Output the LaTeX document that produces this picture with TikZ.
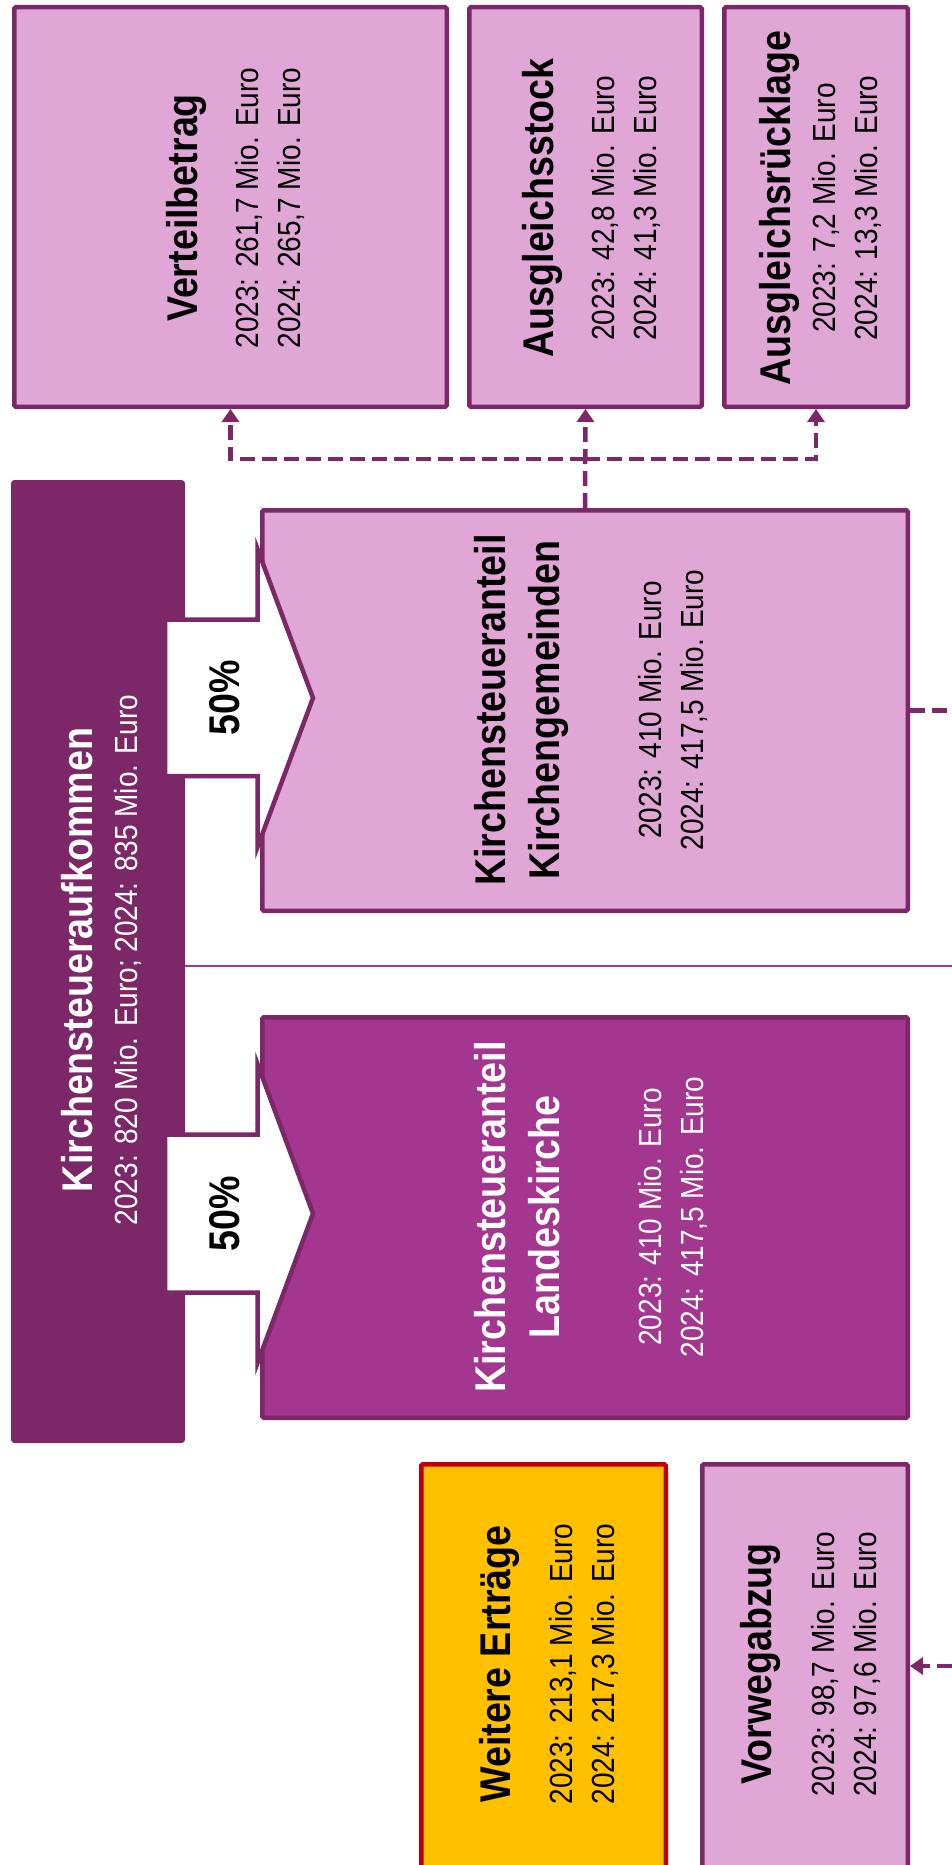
\documentclass[tikz,border=0pt]{standalone}
\usepackage{fontspec}
\setmainfont{Liberation Sans}[FakeStretch=0.875]
\usetikzlibrary{arrows.meta}
\definecolor{kdark}{RGB}{123,39,104}
\definecolor{lpink}{RGB}{224,166,214}
\definecolor{lkmid}{RGB}{163,54,143}
\definecolor{kgold}{RGB}{255,192,0}
\definecolor{kred}{RGB}{192,0,0}
\newcommand\boxtitle[1]{{\fontsize{43}{50}\selectfont\bfseries #1}}
\begin{document}
\begin{tikzpicture}[x=1pt,y=-1pt,
  kbox/.style={draw=kdark, line width=4.5pt, fill=lpink, rounded corners=1.5pt, inner sep=0pt},
  darkbox/.style={draw=kdark, line width=1pt, fill=kdark, rounded corners=3pt, inner sep=0pt},
  lkbox/.style={kbox, fill=lkmid},
  goldbox/.style={kbox, draw=kred, fill=kgold},
  rot/.style={rotate=90, align=center, inner sep=0pt, node font=\fontsize{32}{42}\selectfont},
  conn/.style={draw=kdark, line width=4.5pt, dash pattern=on 15pt off 7pt},
  arrowend/.style={-{Triangle[width=17pt,length=13pt]}},
  blockarrow/.style={draw=kdark, line width=4.5pt, fill=white, line join=miter},
  sepline/.style={draw=lkmid, line width=1.5pt}]
\useasboundingbox (0,0) rectangle (952,1865);
\clip (0,0) rectangle (952,1865);

% boxes
\node[kbox, minimum width=432.5pt, minimum height=399.5pt] (vb) at (230.5,207) {};
\node[kbox, minimum width=232.5pt, minimum height=399.5pt] (ast) at (585.5,207) {};
\node[kbox, minimum width=183.5pt, minimum height=399.5pt] (ar) at (816,207) {};
\node[darkbox, minimum width=173pt, minimum height=962pt] (ksa) at (98,961.5) {};
\node[kbox, minimum width=645.5pt, minimum height=400.5pt] (kg) at (585,710.5) {};
\node[lkbox, minimum width=645.5pt, minimum height=400.5pt] (lk) at (585,1217.5) {};
\node[goldbox, minimum width=244.5pt, minimum height=403.5pt] (we) at (543.5,1666) {};
\node[kbox, minimum width=205.5pt, minimum height=403.5pt] (vw) at (805,1666) {};

% separator
\coordinate (sepR) at (952,966);
\draw[sepline] (sepR -| ksa.east) -- (sepR);

% block arrows
\path[blockarrow] (165,619.5) -- (257.5,619.5) -- (257.5,549) -- (313,698) -- (257.5,847) -- (257.5,776) -- (165,776) -- cycle;
\path[blockarrow] (165,1134.5) -- (257.5,1134.5) -- (257.5,1064) -- (313,1213.5) -- (257.5,1363) -- (257.5,1292.5) -- (165,1292.5) -- cycle;
\node[rot] (p1) at (224.5,698) {\boxtitle{50\%}};
\node[rot] (p2) at (224.5,1213.5) {\boxtitle{50\%}};

% connectors
\coordinate (jy) at (0,459);
\coordinate (kgR) at (952,710.5);
\coordinate (vwR) at (952,1666);
\draw[conn, arrowend] (kg.north) -- (ast.south);
\draw[conn, arrowend] (kg.north |- jy) -| (vb.south);
\draw[conn, arrowend] (kg.north |- jy) -| (ar.south);
\draw[conn] (kg.east) -- (kgR);
\draw[conn, arrowend] (vwR) -- (vw.east);

% texts
\node[rot] (vbt) at (235,208) {\boxtitle{Verteilbetrag}\\[19pt] 2023: 261,7 Mio. Euro\\ 2024: 265,7 Mio. Euro};
\node[rot] (astt) at (591,208) {\boxtitle{Ausgleichsstock}\\[19pt] 2023: 42,8 Mio. Euro\\ 2024: 41,3 Mio. Euro};
\node[rot] (art) at (820.5,208) {\boxtitle{Ausgleichsrücklage}\\[3pt] 2023: 7,2 Mio. Euro\\ 2024: 13,3 Mio. Euro};
\node[rot, text=white] (ksat) at (101.75,960) {\boxtitle{Kirchensteueraufkommen}\\[3pt] 2023: 820 Mio. Euro; 2024: 835 Mio. Euro};
\node[rot] (kgt) at (590.75,710) {\boxtitle{Kirchensteueranteil}\\[12pt] \boxtitle{Kirchengemeinden}\\[60pt] 2023: 410 Mio. Euro\\ 2024: 417,5 Mio. Euro};
\node[rot, text=white] (lkt) at (590.75,1217) {\boxtitle{Kirchensteueranteil}\\[12pt] \boxtitle{Landeskirche}\\[60pt] 2023: 410 Mio. Euro\\ 2024: 417,5 Mio. Euro};
\node[rot] (wet) at (549,1664) {\boxtitle{Weitere Erträge}\\[20pt] 2023: 213,1 Mio. Euro\\ 2024: 217,3 Mio. Euro};
\node[rot] (vwt) at (810,1664) {\boxtitle{Vorwegabzug}\\[21pt] 2023: 98,7 Mio. Euro\\ 2024: 97,6 Mio. Euro};
\end{tikzpicture}
\end{document}
